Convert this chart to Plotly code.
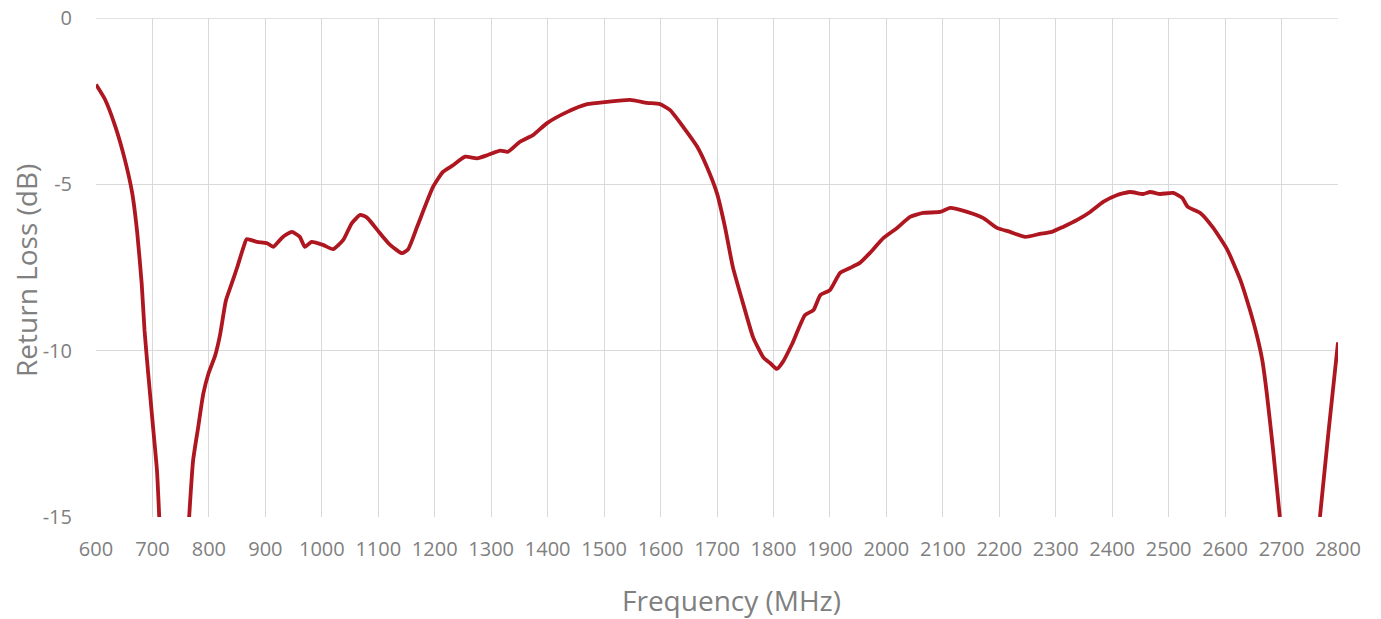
import plotly.graph_objects as go

# Frequency (MHz) and return loss (dB); None marks the parts below the -15 dB axis floor
freq = [600, 616, 634, 651, 664, 673, 681, 686, 692, 700, 708, 712, None,
        765, 772, 781, 790, 799, 811, 820, 830, 840, 850, 861, 867, 885, 903, 914,
        931, 947, 961, 970, 982, 1002, 1020, 1038, 1053, 1068, 1080, 1103, 1121,
        1142, 1153, 1169, 1197, 1215, 1233, 1254, 1275, 1294, 1316, 1330, 1351,
        1374, 1399, 1434, 1470, 1505, 1546, 1576, 1599, 1617, 1640, 1665, 1682,
        1700, 1714, 1728, 1746, 1764, 1782, 1794, 1806, 1817, 1833, 1856, 1871,
        1883, 1900, 1918, 1936, 1953, 1971, 1995, 2019, 2042, 2065, 2095, 2113,
        2143, 2171, 2196, 2219, 2246, 2272, 2293, 2313, 2338, 2361, 2384, 2409,
        2432, 2455, 2467, 2485, 2508, 2524, 2534, 2556, 2579, 2604, 2627, 2644,
        2657, 2666, 2674, 2685, 2697, None, 2768, 2783, 2800]
return_loss = [-2.0, -2.45, -3.25, -4.25, -5.25, -6.45, -8.0, -9.4, -10.6, -12.1, -13.6, -15.0, None,
               -15.0, -13.3, -12.3, -11.3, -10.7, -10.15, -9.5, -8.5, -8.0, -7.5, -6.9, -6.65, -6.73, -6.77, -6.88,
               -6.58, -6.43, -6.58, -6.88, -6.73, -6.82, -6.95, -6.67, -6.17, -5.92, -6.0, -6.47, -6.82,
               -7.07, -6.95, -6.27, -5.08, -4.62, -4.42, -4.17, -4.22, -4.12, -3.99, -4.02, -3.72,
               -3.52, -3.16, -2.83, -2.59, -2.52, -2.46, -2.55, -2.59, -2.77, -3.27, -3.87, -4.47,
               -5.27, -6.27, -7.48, -8.57, -9.6, -10.2, -10.37, -10.55, -10.33, -9.8, -8.93, -8.78,
               -8.33, -8.18, -7.66, -7.51, -7.36, -7.06, -6.61, -6.31, -5.98, -5.86, -5.83, -5.71,
               -5.83, -6.01, -6.31, -6.43, -6.58, -6.49, -6.43, -6.28, -6.07, -5.83, -5.53, -5.32,
               -5.23, -5.29, -5.23, -5.29, -5.26, -5.41, -5.68, -5.86, -6.31, -6.97, -7.87, -8.78,
               -9.59, -10.3, -11.3, -12.98, -15.0, None, -15.0, -12.47, -9.75]

x_ticks = list(range(600, 2801, 100))
y_ticks = [0, -5, -10, -15]

FONT = "Open Sans"
GRAY = "#808080"
GRID = "#d9d9d9"

fig = go.Figure()
fig.add_trace(go.Scatter(
    x=freq, y=return_loss, mode="lines",
    line=dict(color="#AE1620", width=3.8, shape="spline", smoothing=0.5),
    connectgaps=False, showlegend=False, hoverinfo="x+y",
))

fig.update_layout(
    width=1373, height=611,
    margin=dict(l=88, r=43, t=10, b=102, autoexpand=False),
    paper_bgcolor="white", plot_bgcolor="white",
    font=dict(family=FONT, color=GRAY, size=20),
    xaxis=dict(
        range=[600, 2800], tickmode="array", tickvals=x_ticks,
        ticktext=[str(v) for v in x_ticks],
        showgrid=True, gridcolor=GRID, gridwidth=1,
        zeroline=False, showline=False, ticks="", automargin=False,
        tickfont=dict(family=FONT, size=20, color=GRAY),
        ticklabelstandoff=18, ticklabeloverflow="allow",
    ),
    yaxis=dict(
        range=[-15, 0], tickmode="array", tickvals=y_ticks,
        ticktext=[str(v) for v in y_ticks],
        showgrid=True, gridcolor=GRID, gridwidth=1,
        zeroline=False, showline=False, ticks="", automargin=False,
        tickfont=dict(family=FONT, size=20, color=GRAY),
        ticklabelstandoff=23, ticklabeloverflow="allow",
    ),
    shapes=[
        # gridline at the top of the range (0 dB), which plotly skips at the edge
        dict(type="line", xref="paper", yref="y", x0=0, x1=1, y0=y_ticks[0], y1=y_ticks[0],
             line=dict(color=GRID, width=1.5), layer="below"),
    ],
    annotations=[
        dict(text="Frequency (MHz)", xref="paper", yref="paper",
             x=0.512, y=-0.166, xanchor="center", yanchor="middle",
             showarrow=False, font=dict(family=FONT, size=28, color=GRAY)),
        dict(text="Return Loss (dB)", xref="paper", yref="paper",
             x=-0.0564, y=0.495, xanchor="center", yanchor="middle", textangle=-90,
             showarrow=False, font=dict(family=FONT, size=28, color=GRAY)),
    ],
)

fig.write_html("out.html")
